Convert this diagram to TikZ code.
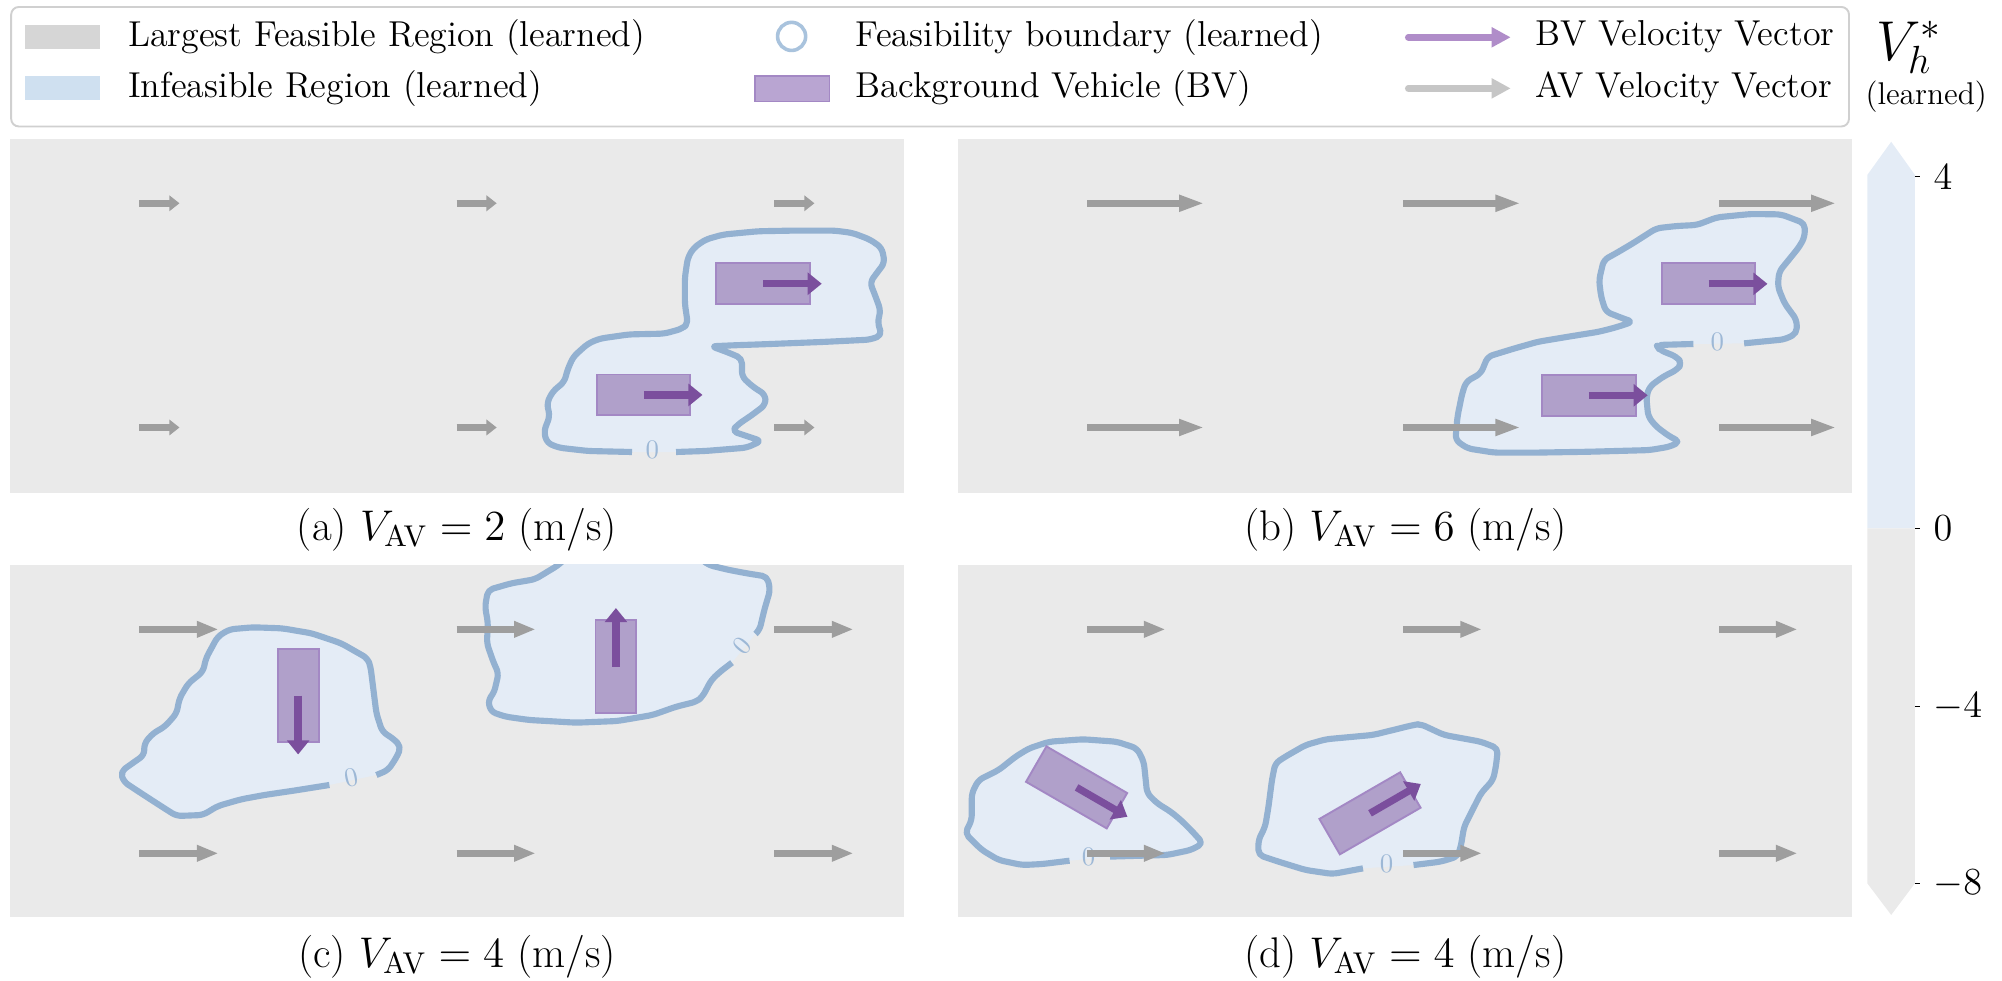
\RequirePackage{fix-cm}
\documentclass[tikz,border=0pt]{standalone}
\usetikzlibrary{arrows.meta}
\definecolor{panelbg}{HTML}{EAEAEA}
\definecolor{blobfill}{HTML}{E4ECF6}
\definecolor{blobline}{HTML}{93B1D1}
\definecolor{zerolab}{HTML}{9DB8D6}
\definecolor{bvfill}{HTML}{B0A0CA}
\definecolor{bvedge}{HTML}{A388C4}
\definecolor{bvarrowc}{HTML}{7B4F9D}
\definecolor{avarrowc}{HTML}{9E9E9E}
\definecolor{leggrey}{HTML}{D6D6D6}
\definecolor{legblue}{HTML}{CFE0F0}
\definecolor{legcirc}{HTML}{A9C3DD}
\definecolor{legbv}{HTML}{B9A5D2}
\definecolor{legbvarrow}{HTML}{B08DC9}
\definecolor{legavarrow}{HTML}{C6C6C6}
\definecolor{legframe}{HTML}{D0D0D0}
\newcommand{\blobpath}[1]{%
  \fill[blobarea] plot[sharp cycle] coordinates {#1};
  \draw[blobedge] plot[sharp plot] coordinates {#1};}
\tikzset{
  panelbox/.style={fill=panelbg, draw=none, inner sep=0, outer sep=0, anchor=north west,
    minimum width=350.1pt, minimum height=138.5pt},
  blobarea/.style={fill=blobfill, rounded corners=2pt},
  blobedge/.style={draw=blobline, line width=2.4pt, rounded corners=2pt, line join=round},
  zlab/.style={text=zerolab, font=\fontsize{10.5}{12}\selectfont, inner sep=0},
  avarr/.style={draw=avarrowc, line width=2.6pt},
  bvbox/.style={draw=bvedge, fill=bvfill, line width=0.75pt, minimum width=36.5pt,
    minimum height=16pt, inner sep=0, outer sep=0},
  bvarr/.style={draw=bvarrowc, line width=2.85pt, -{Triangle[length=5.5pt,width=8.5pt]}},
  legtext/.style={anchor=west, inner sep=0, font=\fontsize{14.1}{16}\selectfont},
  captext/.style={anchor=base, inner sep=0, font=\fontsize{16.8}{20}\selectfont},
  ticklab/.style={anchor=west, inner sep=0, font=\fontsize{15}{18}\selectfont},
  tickmark/.style={draw=black, line width=0.5pt},
}
\begin{document}
\begin{tikzpicture}[x=0.5pt, y=-0.5pt]
\useasboundingbox (0,0) rectangle (1568,768);

% ---------- legend ----------
\node[draw=legframe, line width=0.75pt, rounded corners=3pt, fill=white, anchor=north west,
  minimum width=719.7pt, minimum height=46.8pt, inner sep=0] (legend) at (8,4.7) {};
\node[fill=leggrey, minimum width=29.5pt, minimum height=9.5pt, inner sep=0] (hgrey) at (49,29) {};
\node[fill=legblue, minimum width=29.5pt, minimum height=9.5pt, inner sep=0] (hblue) at (49,69) {};
\node[legtext] (tgrey) at (100,29) {Largest Feasible Region (learned)};
\node[legtext] (tblue) at (100,69) {Infeasible Region (learned)};
\node[circle, draw=legcirc, line width=1.4pt, minimum size=11pt, inner sep=0] (hcirc) at (620,28.5) {};
\node[fill=legbv, draw=bvedge, line width=0.75pt, minimum width=29.3pt, minimum height=10pt, inner sep=0] (hbv) at (620.4,69.5) {};
\node[legtext] (tcirc) at (670,29) {Feasibility boundary (learned)};
\node[legtext] (tbv) at (670,69) {Background Vehicle (BV)};
\coordinate (lbva) at (1103,29.2);
\coordinate (lbvb) at (1183.2,29.2);
\coordinate (lava) at (1103,69.2);
\coordinate (lavb) at (1183.2,69.2);
\draw[draw=legbvarrow, line width=2.6pt, line cap=round, -{Triangle[length=7.5pt,width=7.5pt]}] (lbva) -- (lbvb);
\draw[draw=legavarrow, line width=2.6pt, line cap=round, -{Triangle[length=7.5pt,width=7.5pt]}] (lava) -- (lavb);
\node[legtext] (tbvv) at (1202,29) {BV Velocity Vector};
\node[legtext] (tavv) at (1202,69) {AV Velocity Vector};

% ---------- panels ----------
\node[panelbox] (pa) at (7.8,108.9) {};
\node[panelbox] (pb) at (750.6,108.9) {};
\node[panelbox, minimum height=138pt] (pc) at (7.8,442.5) {};
\node[panelbox, minimum height=138pt] (pd) at (750.6,442.5) {};

% ---------- (a) ----------
\blobpath{(495.0,354.0) (460.5,353.2) (437.5,350.6) (428.3,346.7) (426.0,337.7) (430.6,326.0) (428.3,315.7) (432.9,306.6) (442.1,298.9) (444.4,289.8) (449.0,279.4) (460.5,269.1) (469.7,265.2) (492.7,261.9) (520.3,261.3) (534.1,257.5) (538.7,253.6) (536.4,238.1) (536.4,217.4) (538.7,201.8) (543.3,194.1) (552.6,187.6) (566.4,183.7) (594.0,181.1) (621.6,180.6) (653.8,180.6) (667.6,182.4) (681.4,187.6) (690.6,194.1) (692.9,205.7) (686.0,214.8) (681.4,221.2) (686.0,232.9) (689.7,243.2) (687.4,252.3) (690.6,262.6) (681.4,266.0) (644.6,267.8) (598.6,269.6) (575.5,270.4) (557.1,271.2) (570.9,276.3) (581.1,280.7) (581.1,295.0) (589.4,302.7) (599.5,309.2) (599.5,317.0) (589.4,324.7) (577.9,332.5) (573.3,337.7) (584.8,341.5) (596.3,345.4) (584.8,350.6) (552.5,353.2) (529.5,354.0)}
\node[zlab] (za) at (511,352) {0};
\foreach \x in {109.2,357.6,606.5}{
  \draw[avarr, -{Triangle[length=4pt,width=6pt]}] (\x,159.2) -- ++(31.4,0);
  \draw[avarr, -{Triangle[length=4pt,width=6pt]}] (\x,334.8) -- ++(31.4,0);
}
\node[bvbox] (bva1) at (597.6,222.2) {};
\node[bvbox] (bva2) at (504.2,309.3) {};
\draw[bvarr] (bva1.center) -- ++(46,0);
\draw[bvarr] (bva2.center) -- ++(46,0);
\node[captext] (capa) at (357.9,423) {(a) $V_{\mathrm{AV}}=2$ (m/s)};

% ---------- (b) ----------
\blobpath{(1326.3,269.4) (1297.3,270.2) (1299.9,274.1) (1313.1,279.4) (1317.4,284.6) (1313.1,289.8) (1302.6,295.0) (1292.0,302.8) (1289.4,310.7) (1290.9,326.3) (1297.3,334.2) (1307.9,342.0) (1315.8,345.9) (1307.9,349.8) (1292.0,352.5) (1244.5,353.8) (1202.2,354.5) (1170.5,354.5) (1149.4,351.2) (1139.9,344.6) (1141.5,326.3) (1145.2,308.1) (1148.3,298.9) (1159.9,292.4) (1165.2,279.3) (1186.4,272.8) (1204.8,267.6) (1231.3,263.2) (1252.4,259.8) (1265.6,256.4) (1278.8,252.0) (1270.9,249.3) (1257.7,244.1) (1254.0,232.4) (1252.4,219.3) (1256.1,203.6) (1265.6,198.4) (1278.8,190.6) (1297.3,178.8) (1313.1,177.0) (1329.0,176.2) (1344.8,170.2) (1371.3,167.6) (1395.0,167.9) (1413.5,174.9) (1413.5,185.4) (1409.3,193.2) (1403.0,201.0) (1393.4,212.8) (1392.4,224.5) (1397.7,237.6) (1407.2,250.6) (1407.2,261.1) (1397.7,265.8) (1366.0,268.9)}
\node[zlab] (zb) at (1345,268.1) {0};
\foreach \x in {851.4,1099.2,1346.4}{
  \draw[avarr, -{Triangle[length=10pt,width=6pt]}] (\x,159.2) -- ++(92,0);
  \draw[avarr, -{Triangle[length=10pt,width=6pt]}] (\x,334.8) -- ++(92,0);
}
\node[bvbox] (bvb1) at (1338.3,222.3) {};
\node[bvbox] (bvb2) at (1244.5,309.6) {};
\draw[bvarr] (bvb1.center) -- ++(46,0);
\draw[bvarr] (bvb2.center) -- ++(46,0);
\node[captext] (capb) at (1100.5,423) {(b) $V_{\mathrm{AV}}=6$ (m/s)};

% ---------- (c) ----------
\blobpath{(258.0,614.8) (230.3,619.2) (207.3,622.6) (188.9,626.0) (170.5,631.3) (159.0,638.3) (138.3,639.1) (126.8,631.8) (110.6,621.3) (96.8,612.2) (94.5,604.4) (103.7,597.8) (113.0,591.3) (113.0,582.2) (119.9,574.3) (129.1,569.1) (138.3,558.7) (140.6,546.9) (147.5,535.2) (159.0,526.0) (161.3,515.6) (170.5,498.6) (179.7,492.9) (198.1,491.3) (221.1,492.1) (244.1,496.0) (267.2,503.8) (287.9,515.6) (290.2,522.1) (292.5,540.4) (294.8,558.7) (299.4,573.0) (308.6,579.0) (314.1,584.8) (310.9,592.6) (304.0,603.1) (294.8,607.0)}
\node[zlab, rotate=12] (zc1) at (275,609) {0};
\begin{scope}
\clip (7.8,442.5) rectangle (708,718.5);
\blobpath{(573.3,519.0) (564.1,526.0) (557.1,532.6) (550.2,545.6) (545.6,549.5) (529.5,553.5) (511.1,560.0) (483.5,564.7) (451.3,566.0) (414.5,563.9) (396.0,561.3) (384.5,557.4) (382.2,548.2) (386.8,543.0) (390.5,527.3) (386.8,519.5) (381.3,503.8) (382.2,488.2) (379.9,475.1) (382.2,462.1) (400.6,456.8) (419.0,453.7) (437.5,442.5) (450,430) (540,430) (554.8,442.5) (571.0,446.4) (584.8,449.0) (600.9,451.6) (603.2,462.1) (598.6,477.7) (594.9,493.4) (591.7,496.5)}
\end{scope}
\node[zlab, rotate=50] (zc2) at (581.5,506) {0};
\foreach \x in {109.2,357.6,606.5}{
  \draw[avarr, -{Triangle[length=8.5pt,width=6pt]}] (\x,492.9) -- ++(62,0);
  \draw[avarr, -{Triangle[length=8.5pt,width=6pt]}] (\x,668.3) -- ++(62,0);
}
\node[bvbox, rotate=90] (bvc1) at (233.5,544.9) {};
\node[bvbox, rotate=90] (bvc2) at (482.4,522.2) {};
\draw[bvarr] (bvc1.center) -- ++(0,46);
\draw[bvarr] (bvc2.center) -- ++(0,-46);
\node[captext] (capc) at (357.9,757.5) {(c) $V_{\mathrm{AV}}=4$ (m/s)};

% ---------- (d) ----------
\blobpath{(837.7,674.1) (816.5,676.7) (800.7,677.5) (782.2,673.6) (769.0,665.7) (755.8,652.7) (761.1,642.2) (761.1,621.3) (766.4,610.9) (782.2,603.1) (795.4,592.6) (806.0,586.1) (821.8,580.9) (848.2,579.0) (874.7,580.9) (890.5,586.1) (895.8,596.5) (896.8,605.7) (898.4,621.3) (906.4,629.2) (916.9,635.7) (924.8,642.2) (932.8,650.1) (942.3,660.5) (932.8,665.7) (914.3,669.6) (869.4,670.9)}
\node[zlab] (zd1) at (852.5,671) {0};
\blobpath{(1067.5,680.1) (1043.7,684.5) (1022.6,681.4) (1001.5,674.9) (985.6,669.6) (985.6,657.9) (990.9,647.4) (993.5,631.8) (996.2,610.9) (998.8,597.8) (1006.7,592.6) (1022.6,583.5) (1038.4,579.0) (1075.4,575.6) (1107.1,567.8) (1112.4,567.0) (1130.9,575.6) (1159.9,580.9) (1173.2,586.1) (1171.6,600.4) (1169.4,610.9) (1159.9,621.3) (1154.6,631.8) (1146.7,647.4) (1144.1,663.1) (1141.4,670.9) (1128.2,674.9) (1107.1,677.5)}
\node[zlab] (zd2) at (1086,676.5) {0};
\foreach \x in {851.4,1099.2,1346.4}{
  \draw[avarr, -{Triangle[length=8.5pt,width=6pt]}] (\x,492.9) -- ++(61.5,0);
  \draw[avarr, -{Triangle[length=8.5pt,width=6pt]}] (\x,668.3) -- ++(61.5,0);
}
\node[bvbox, rotate=-30] (bvd1) at (843.2,616.7) {};
\node[bvbox, rotate=30] (bvd2) at (1073,637) {};
\draw[bvarr] (bvd1.center) -- ++(39.8,23);
\draw[bvarr] (bvd2.center) -- ++(39.8,-23);
\node[captext] (capd) at (1100.5,757.5) {(d) $V_{\mathrm{AV}}=4$ (m/s)};

% ---------- colorbar ----------
\fill[blobfill] (1462.5,137) -- (1481.2,111) -- (1499.8,137) -- (1499.8,413.8) -- (1462.5,413.8) -- cycle;
\fill[panelbg] (1462.5,413.8) -- (1499.8,413.8) -- (1499.8,691.8) -- (1481.2,716.6) -- (1462.5,691.8) -- cycle;
\foreach \yy/\lab/\nm in {138.4/4/t4, 413.8/0/t0, 553.5/-4/tm4, 691.8/-8/tm8}{
  \draw[tickmark] (1499.8,\yy) -- ++(4,0);
  \node[ticklab] (\nm) at (1514,\yy) {$\lab$};
}
\node[anchor=base west, inner sep=0] (vh) at (1469,47) {\fontsize{22}{26}\selectfont $V_h^*$};
\node[anchor=west, inner sep=0] (vl) at (1460.7,75.7) {\fontsize{12.3}{14}\selectfont (learned)};
\end{tikzpicture}
\end{document}
